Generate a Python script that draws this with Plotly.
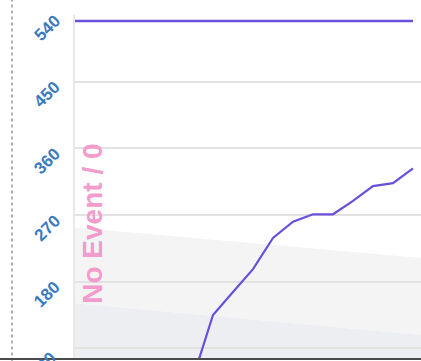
import plotly.graph_objects as go

# Series values by period index
periods = list(range(0, 21))
series_periods = [9, 10, 11, 12, 13, 14, 15, 16, 17, 18, 19, 20]
series_values = [50, 135, 166, 197, 239, 261, 271, 271, 289, 309, 313, 333]
ceiling_value = 532

# Background bands (start / end levels)
band_upper = [253, 212]
band_lower = [151, 108]
band_x = [3.1, 20.4]
y_floor = 0

y_ticks = [90, 180, 270, 360, 450, 540]
y_tick_labels = ["90", "180", "270", "360", "450", "540"]


def band_path(xs, top, bottom):
    return (f"M {xs[0]},{bottom[0]} L {xs[0]},{top[0]} L {xs[1]},{top[1]} "
            f"L {xs[1]},{bottom[1]} Z")


fig = go.Figure()

# Ceiling line
fig.add_trace(go.Scatter(x=periods, y=[ceiling_value] * len(periods), mode="lines",
                         line=dict(color="#6a4fdc", width=2.5),
                         showlegend=False))

# Main series
fig.add_trace(go.Scatter(x=series_periods, y=series_values, mode="lines",
                         line=dict(color="#6a4fdc", width=2.2),
                         showlegend=False))

# Slanted value labels for the y axis
tick_annotations = [
    dict(text=lbl, x=-0.081, xref="paper", y=val, yref="y", yshift=-13,
         textangle=-45, showarrow=False, xanchor="center", yanchor="middle",
         font=dict(family="Liberation Sans", size=17, color="#3a7bbf", weight="bold"))
    for val, lbl in zip(y_ticks, y_tick_labels)
]

fig.update_layout(
    width=421, height=361,
    margin=dict(l=75, r=0, t=15, b=3),
    paper_bgcolor="white", plot_bgcolor="white",
    xaxis=dict(range=band_x, showgrid=False, showticklabels=False,
               zeroline=False, showline=False),
    yaxis=dict(range=[77, 540], tickvals=y_ticks, showticklabels=False,
               showgrid=True, gridcolor="#e2e2e2", gridwidth=2,
               zeroline=False, showline=True, linecolor="#e8e8e8", linewidth=2),
    annotations=tick_annotations + [dict(
        text="No Event / 0", textangle=-90, xref="paper", yref="paper",
        x=0.0, y=0.39, showarrow=False,
        font=dict(family="Liberation Sans", size=28, color="#f29ccb", weight=600),
    )],
    shapes=[
        dict(type="path", xref="x", yref="y", layer="below", line=dict(width=0),
             fillcolor="#f4f4f4",
             path=band_path(band_x, band_upper, band_lower)),
        dict(type="path", xref="x", yref="y", layer="below", line=dict(width=0),
             fillcolor="#eceef2",
             path=band_path(band_x, band_lower, [y_floor, y_floor])),
        dict(type="line", xref="paper", yref="paper", x0=-0.182, x1=-0.182, y0=-0.01, y1=1.05,
             line=dict(color="#9a9a9a", width=1.5, dash="dot")),
        dict(type="line", xref="paper", yref="paper", x0=-0.25, x1=1.0, y0=-0.003, y1=-0.003,
             line=dict(color="#4a4a4a", width=2)),
    ],
)

fig.write_html("out.html")
